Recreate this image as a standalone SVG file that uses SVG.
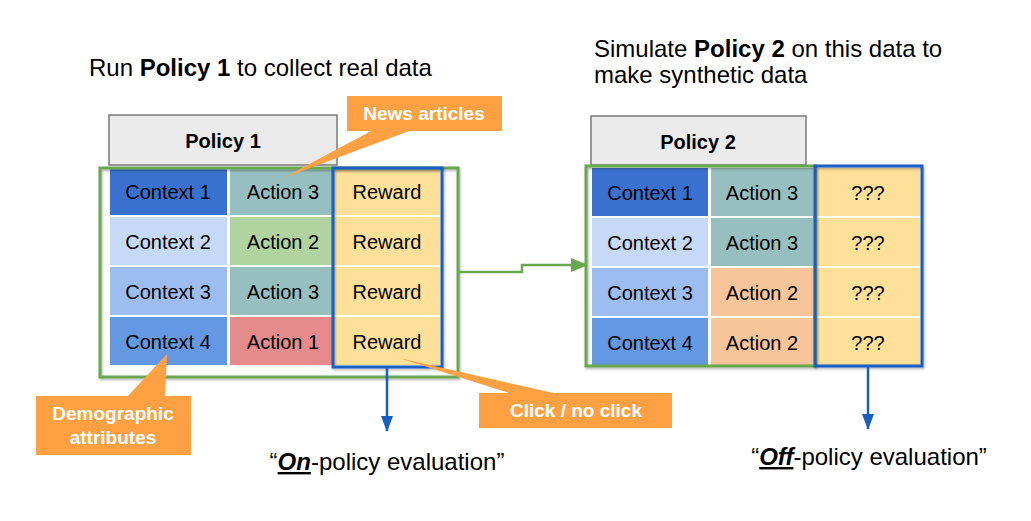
<svg xmlns="http://www.w3.org/2000/svg" width="1031" height="521" viewBox="0 0 1031 521">
<style>
text{font-family:"Liberation Sans",Arial,sans-serif;}
.cell{font-size:20px;fill:#000;text-anchor:middle;}
.title{font-size:24px;fill:#000;}
.pol{font-size:20px;font-weight:bold;fill:#000;text-anchor:middle;}
.call{font-size:19px;font-weight:bold;fill:#fff;text-anchor:middle;}
.eval{font-size:24px;fill:#000;text-anchor:middle;}
.polbox{fill:#ebebeb;stroke:#7a7a7a;stroke-width:1.5;}
.green{fill:none;stroke:#6aa84f;stroke-width:3;}
.blue{fill:none;stroke:#1a5ec4;stroke-width:3;}
.orange{fill:#ffa043;}
.c1{fill:#3a70cf;}.c2{fill:#c6d9f6;}.c3{fill:#9dbdf0;}.c4{fill:#6598e2;}
.a3{fill:#98bfc0;}.a2g{fill:#b0d3a0;}.a1{fill:#e58b8c;}.a2o{fill:#f8c59b;}
.rw{fill:#ffe098;}
</style>
<defs>
<filter id="sh" x="-5%" y="-5%" width="110%" height="110%">
<feDropShadow dx="1" dy="1.5" stdDeviation="1" flood-color="#000" flood-opacity="0.3"/>
</filter>
<marker id="ab" viewBox="0 0 16 12" refX="15" refY="6" markerWidth="16" markerHeight="12" markerUnits="userSpaceOnUse" orient="auto">
<path d="M0,0 L16,6 L0,12 Z" fill="#1a5ec4"/>
</marker>
<marker id="ag" viewBox="0 0 17 14" refX="16" refY="7" markerWidth="17" markerHeight="14" markerUnits="userSpaceOnUse" orient="auto">
<path d="M0,0 L17,7 L0,14 Z" fill="#6aa84f"/>
</marker>
</defs>

<text class="title" x="89" y="76">Run <tspan font-weight="bold">Policy 1</tspan> to collect real data</text>
<text class="title" x="594" y="57">Simulate <tspan font-weight="bold">Policy 2</tspan> on this data to</text>
<text class="title" x="594" y="83">make synthetic data</text>

<g id="table1">
<rect class="polbox" x="109" y="115" width="228" height="50"/>
<text class="pol" x="223" y="148">Policy 1</text>
<rect class="c1" x="110" y="169" width="117" height="46"/>
<rect class="c2" x="110" y="217" width="117" height="48"/>
<rect class="c3" x="110" y="267" width="117" height="48"/>
<rect class="c4" x="110" y="317" width="117" height="48"/>
<rect class="a3" x="230" y="169" width="103" height="46"/>
<rect class="a2g" x="230" y="217" width="103" height="48"/>
<rect class="a3" x="230" y="267" width="103" height="48"/>
<rect class="a1" x="230" y="317" width="103" height="48"/>
<rect class="rw" x="333" y="169" width="107" height="46"/>
<rect class="rw" x="333" y="217" width="107" height="48"/>
<rect class="rw" x="333" y="267" width="107" height="48"/>
<rect class="rw" x="333" y="317" width="107" height="48"/>
<text class="cell" x="168" y="199">Context 1</text>
<text class="cell" x="168" y="249">Context 2</text>
<text class="cell" x="168" y="299">Context 3</text>
<text class="cell" x="168" y="349">Context 4</text>
<text class="cell" x="283" y="199">Action 3</text>
<text class="cell" x="283" y="249">Action 2</text>
<text class="cell" x="283" y="299">Action 3</text>
<text class="cell" x="283" y="349">Action 1</text>
<text class="cell" x="387" y="199">Reward</text>
<text class="cell" x="387" y="249">Reward</text>
<text class="cell" x="387" y="299">Reward</text>
<text class="cell" x="387" y="349">Reward</text>
<rect class="green" x="100" y="168" width="358" height="209" filter="url(#sh)"/>
<rect class="blue" x="333" y="168" width="109" height="199" filter="url(#sh)"/>
</g>

<g id="table2">
<rect class="polbox" x="591" y="116" width="215" height="49"/>
<text class="pol" x="698" y="149">Policy 2</text>
<rect class="c1" x="592" y="168" width="116" height="48"/>
<rect class="c2" x="592" y="218" width="116" height="48"/>
<rect class="c3" x="592" y="268" width="116" height="48"/>
<rect class="c4" x="592" y="318" width="116" height="48"/>
<rect class="a3" x="711" y="168" width="102" height="48"/>
<rect class="a3" x="711" y="218" width="102" height="48"/>
<rect class="a2o" x="711" y="268" width="102" height="48"/>
<rect class="a2o" x="711" y="318" width="102" height="48"/>
<rect class="rw" x="815" y="168" width="105" height="48"/>
<rect class="rw" x="815" y="218" width="105" height="48"/>
<rect class="rw" x="815" y="268" width="105" height="48"/>
<rect class="rw" x="815" y="318" width="105" height="48"/>
<text class="cell" x="650" y="200">Context 1</text>
<text class="cell" x="650" y="250">Context 2</text>
<text class="cell" x="650" y="300">Context 3</text>
<text class="cell" x="650" y="350">Context 4</text>
<text class="cell" x="762" y="200">Action 3</text>
<text class="cell" x="762" y="250">Action 3</text>
<text class="cell" x="762" y="300">Action 2</text>
<text class="cell" x="762" y="350">Action 2</text>
<text class="cell" x="868" y="200">???</text>
<text class="cell" x="868" y="250">???</text>
<text class="cell" x="868" y="300">???</text>
<text class="cell" x="868" y="350">???</text>
<rect class="green" x="586" y="166" width="229" height="200" filter="url(#sh)"/>
<rect class="blue" x="815" y="166" width="107" height="200" filter="url(#sh)"/>
</g>

<g id="callout-news">
<rect class="orange" x="347" y="96" width="155" height="35"/>
<path class="orange" d="M373,130 L412,130 L283,178 Z"/>
<text class="call" x="424" y="120">News articles</text>
</g>
<g id="callout-demo">
<rect class="orange" x="36" y="396" width="155" height="59"/>
<path class="orange" d="M127,397 L165,397 L167,354 Z"/>
<text class="call" x="113" y="420">Demographic</text>
<text class="call" x="113" y="444">attributes</text>
</g>
<g id="callout-click">
<rect class="orange" x="479" y="393" width="193" height="35"/>
<path class="orange" d="M512,394 L558,394 L399,358 Z"/>
<text class="call" x="576" y="417">Click / no click</text>
</g>

<g id="connectors">
<path d="M457,272 H522 V265 H587" fill="none" stroke="#6aa84f" stroke-width="2.5" marker-end="url(#ag)"/>
<line x1="387" y1="367" x2="387" y2="431" stroke="#1a5ec4" stroke-width="2.5" marker-end="url(#ab)"/>
<line x1="868" y1="366" x2="868" y2="429" stroke="#1a5ec4" stroke-width="2.5" marker-end="url(#ab)"/>
</g>

<text class="eval" x="387" y="470">“<tspan font-weight="bold" font-style="italic" text-decoration="underline">On</tspan>-policy evaluation”</text>
<text class="eval" x="869" y="465">“<tspan font-weight="bold" font-style="italic" text-decoration="underline">Off</tspan>-policy evaluation”</text>
</svg>
